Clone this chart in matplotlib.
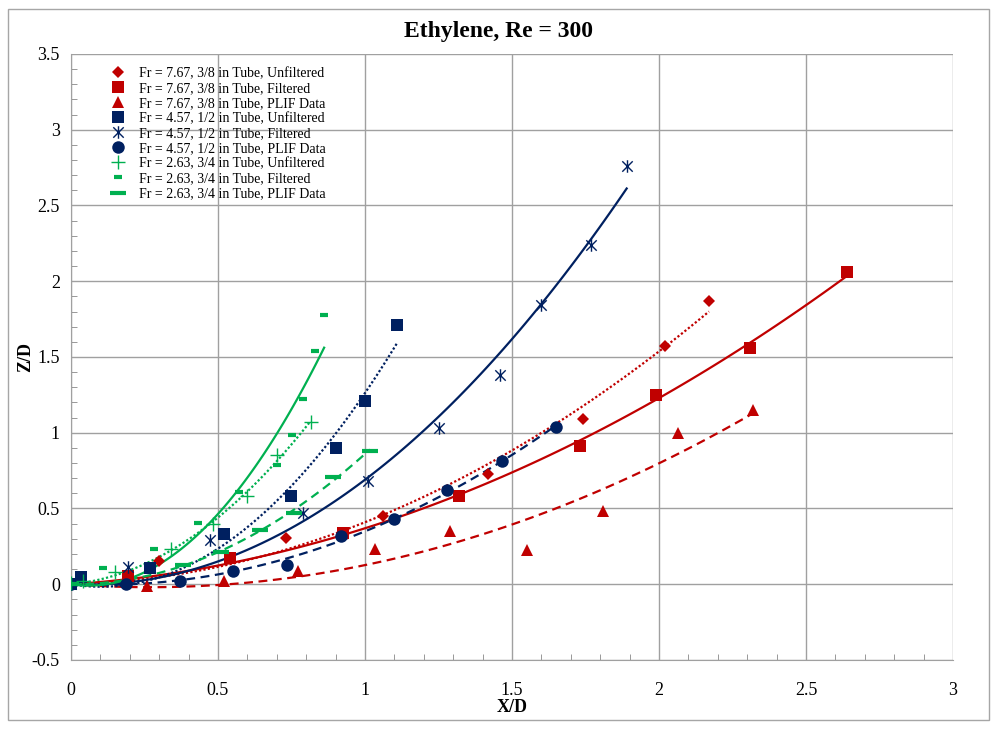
import numpy as np
import matplotlib.pyplot as plt
from matplotlib.path import Path
from matplotlib.patches import Rectangle

plt.rcParams['font.family'] = ['Liberation Serif', 'DejaVu Serif']

# data
red_unf_x = [0, 0.30, 0.73, 1.06, 1.42, 1.74, 2.02, 2.17]
red_unf_y = [0, 0.15, 0.305, 0.45, 0.73, 1.09, 1.57, 1.87]
red_fil_x = [0, 0.195, 0.54, 0.924, 1.32, 1.73, 1.99, 2.31, 2.64]
red_fil_y = [0, 0.056, 0.17, 0.335, 0.58, 0.91, 1.25, 1.56, 2.06]
red_plif_x = [0, 0.26, 0.52, 0.773, 1.034, 1.29, 1.55, 1.81, 2.066, 2.32]
red_plif_y = [0, -0.01, 0.02, 0.09, 0.23, 0.35, 0.225, 0.48, 1.0, 1.15]

navy_unf_x = [0, 0.033, 0.27, 0.52, 0.75, 0.90, 1.0, 1.11]
navy_unf_y = [0, 0.05, 0.11, 0.33, 0.58, 0.90, 1.21, 1.71]
navy_fil_x = [0, 0.195, 0.473, 0.79, 1.01, 1.25, 1.46, 1.60, 1.77, 1.89]
navy_fil_y = [0, 0.115, 0.29, 0.47, 0.68, 1.03, 1.38, 1.845, 2.24, 2.76]
navy_plif_x = [0, 0.187, 0.37, 0.55, 0.735, 0.92, 1.10, 1.28, 1.467, 1.65]
navy_plif_y = [0, 0.0, 0.02, 0.09, 0.13, 0.32, 0.43, 0.62, 0.81, 1.04]

green_unf_x = [0, 0.04, 0.15, 0.34, 0.484, 0.60, 0.70, 0.815]
green_unf_y = [0.01, 0.02, 0.08, 0.23, 0.40, 0.58, 0.85, 1.07]
green_fil_x = [0, 0.11, 0.283, 0.433, 0.57, 0.70, 0.752, 0.79, 0.831, 0.861]
green_fil_y = [0, 0.105, 0.23, 0.405, 0.61, 0.79, 0.985, 1.22, 1.54, 1.78]
green_plif_x = [0, 0.38, 0.51, 0.643, 0.758, 0.89, 1.017]
green_plif_y = [0, 0.13, 0.21, 0.36, 0.47, 0.705, 0.88]

RED = '#C00000'
NAVY = '#002060'
GREEN = '#00B050'

# excel style asterisk: X plus vertical bar
star = Path([(-1, -1), (1, 1), (-1, 1), (1, -1), (0, -1.2), (0, 1.2)],
            [Path.MOVETO, Path.LINETO, Path.MOVETO, Path.LINETO, Path.MOVETO, Path.LINETO])

series = [
    (red_unf_x, red_unf_y, RED, 'D', 6, ':', 'Fr = 7.67, 3/8 in Tube, Unfiltered'),
    (red_fil_x, red_fil_y, RED, 's', 9, '-', 'Fr = 7.67, 3/8 in Tube, Filtered'),
    (red_plif_x, red_plif_y, RED, '^', 8, '--', 'Fr = 7.67, 3/8 in Tube, PLIF Data'),
    (navy_unf_x, navy_unf_y, NAVY, 's', 9, ':', 'Fr = 4.57, 1/2 in Tube, Unfiltered'),
    (navy_fil_x, navy_fil_y, NAVY, star, 9, '-', 'Fr = 4.57, 1/2 in Tube, Filtered'),
    (navy_plif_x, navy_plif_y, NAVY, 'o', 9, '--', 'Fr = 4.57, 1/2 in Tube, PLIF Data'),
    (green_unf_x, green_unf_y, GREEN, '+', 10, ':', 'Fr = 2.63, 3/4 in Tube, Unfiltered'),
    (green_fil_x, green_fil_y, GREEN, '_', 6, '-', 'Fr = 2.63, 3/4 in Tube, Filtered'),
    (green_plif_x, green_plif_y, GREEN, '_', 12, '--', 'Fr = 2.63, 3/4 in Tube, PLIF Data'),
]


def trend(x, y):
    # quadratic trendline with intercept set to 0
    x = np.asarray(x, float)
    A = np.column_stack([x, x ** 2])
    coef = np.linalg.lstsq(A, np.asarray(y, float), rcond=None)[0]
    xs = np.linspace(0, x.max(), 100)
    return xs, coef[0] * xs + coef[1] * xs ** 2


fig = plt.figure(figsize=(9.97, 7.29), dpi=100)
fig.patches.append(Rectangle((0.008, 0.012), 0.984, 0.976, transform=fig.transFigure,
                             fill=False, edgecolor='#A6A6A6', linewidth=1))
ax = fig.add_axes([0.0712, 0.0947, 0.8847, 0.8313])

for x, y, c, m, ms, ls, lab in series:
    if m in ('+', '_'):
        mew = 1.0 if m == '+' else 3.0
    elif m is star:
        mew = 1.0
    else:
        mew = 0
    ax.plot(x, y, linestyle='none', marker=m, markersize=ms, color=c,
            markeredgewidth=mew, label=lab, zorder=3)
    xs, ys = trend(x, y)
    line, = ax.plot(xs, ys, color=c, linewidth=1.6, zorder=2)
    if ls == '--':
        line.set_dashes((4, 2.5))
    elif ls == ':':
        line.set_dashes((1, 1))

ax.set_xlim(0, 3)
ax.set_ylim(-0.5, 3.5)
ax.set_xticks(np.arange(0, 3.01, 0.5))
ax.set_yticks(np.arange(-0.5, 3.51, 0.5))
ax.set_xticklabels(['0', '0.5', '1', '1.5', '2', '2.5', '3'])
ax.set_yticklabels(['-0.5', '0', '0.5', '1', '1.5', '2', '2.5', '3', '3.5'])
ax.set_xticks(np.arange(0, 3.01, 0.1), minor=True)
ax.set_yticks(np.arange(-0.5, 3.51, 0.1), minor=True)
ax.grid(True, which='major', color='#A0A0A0', linewidth=1)
ax.tick_params(which='both', direction='in', color='#888888', labelsize=13)
ax.tick_params(which='major', length=0, pad=8)
ax.tick_params(which='minor', length=4)
ax.tick_params(axis='x', pad=16)
for s in ax.spines.values():
    s.set_color('#A0A0A0')
ax.spines['top'].set_visible(False)
ax.spines['right'].set_visible(False)
ax.set_axisbelow(True)

fig.text(0.5, 0.957, 'Ethylene, Re = 300', fontsize=17, fontweight='bold',
         ha='center', va='center')
ax.set_xlabel('X/D', fontsize=13, fontweight='bold', labelpad=0)
ax.set_ylabel('Z/D', fontsize=13, fontweight='bold', labelpad=-2)

ax.legend(loc='upper left', bbox_to_anchor=(0.037, 0.988), frameon=False,
          fontsize=10, handletextpad=0.95, labelspacing=0.15, handlelength=1.2,
          borderaxespad=0)

fig.savefig('out.png', dpi=100)
